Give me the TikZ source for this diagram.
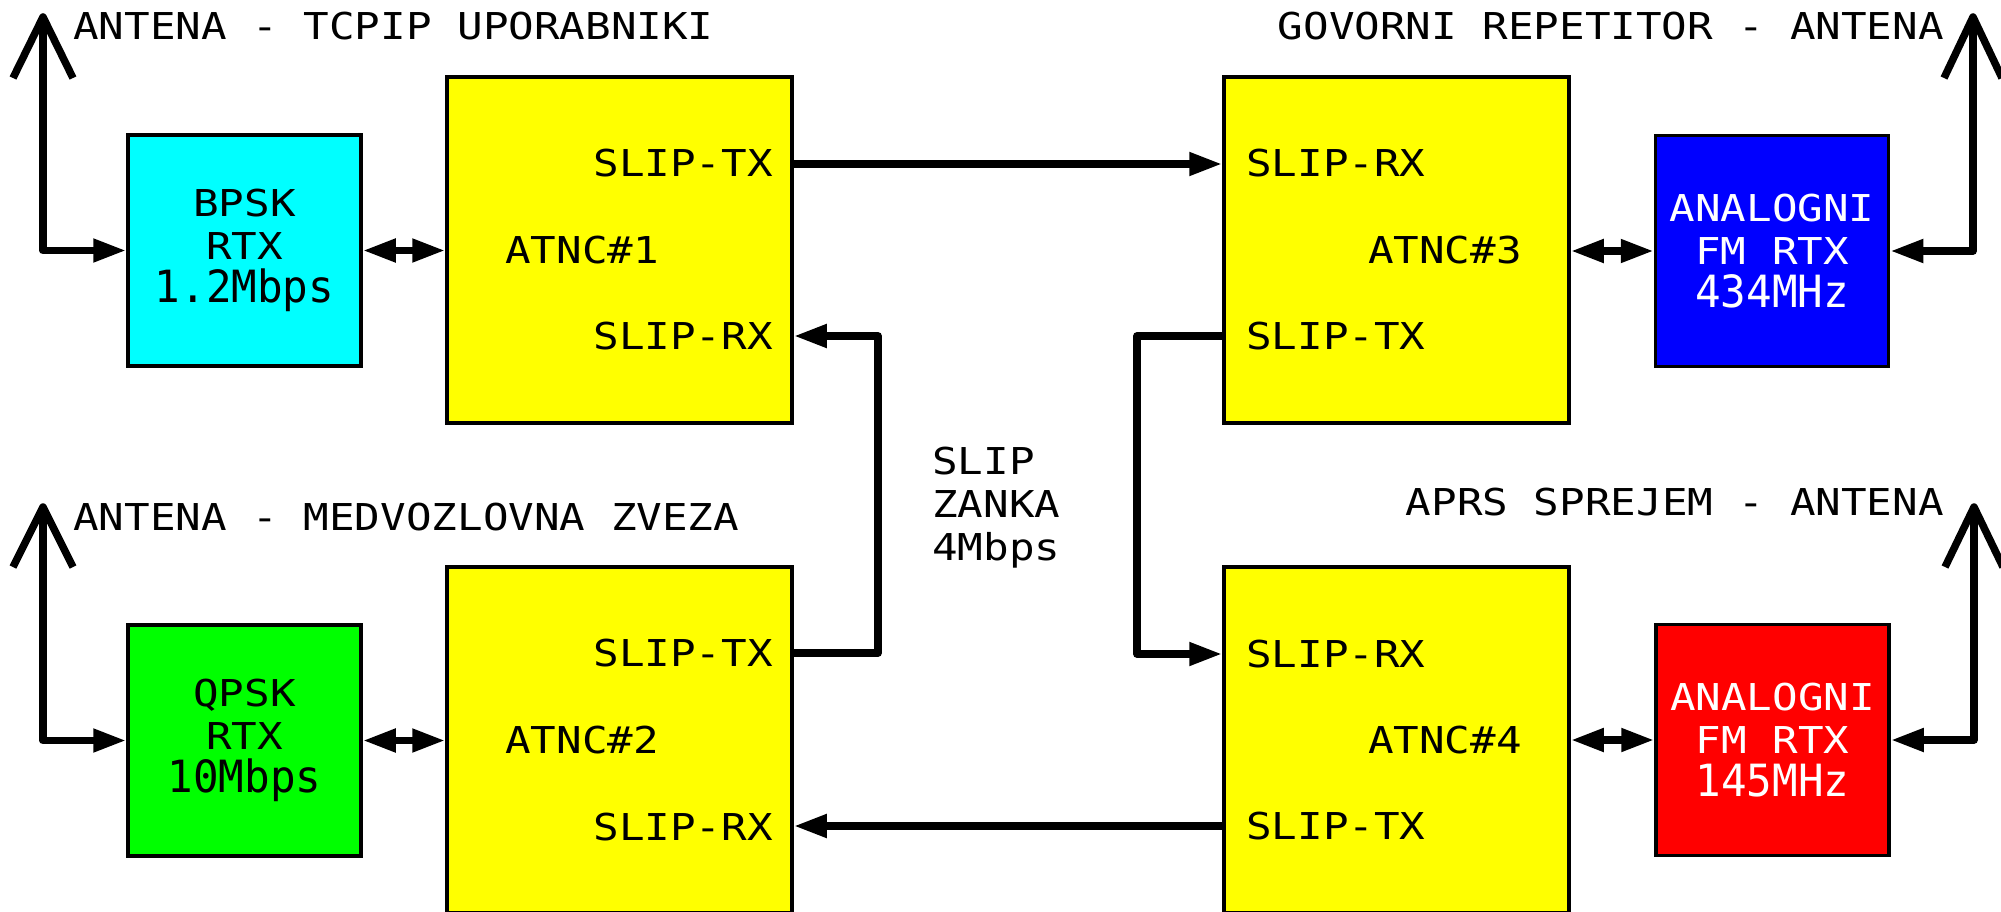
\documentclass[tikz,border=0pt]{standalone}
\usepackage{fontspec}
\setmainfont{DejaVu Sans Mono}[FakeStretch=1.15]
\usetikzlibrary{arrows.meta}
\definecolor{cy}{RGB}{0,255,255}
\definecolor{yel}{RGB}{255,255,0}
\definecolor{bl}{RGB}{0,0,255}
\definecolor{rd}{RGB}{255,0,0}
\definecolor{gr}{RGB}{0,255,0}
\begin{document}
\begin{tikzpicture}[x=1pt,y=-1pt,
  font=\fontsize{37}{43}\selectfont,
  blk/.style={draw=black, line width=3.5pt, inner sep=0pt, align=center},
  rtx/.style={blk, minimum width=233pt, minimum height=231pt},
  atnc/.style={blk, fill=yel, minimum width=345pt, minimum height=346pt},
  wire/.style={line width=7.5pt, line join=round},
  conn/.style={wire, -{Triangle[length=33pt,width=22pt]}},
  bidir/.style={wire, {Triangle[length=33pt,width=22pt]}-{Triangle[length=33pt,width=22pt]}},
  lbl/.style={inner sep=0pt}
]
\path[use as bounding box, clip] (0,0) rectangle (2001,912);

% boxes
\node[rtx, fill=cy] (bpsk) at (244.5,250.5) {BPSK\\RTX\\\scalebox{1}[1.2]{1.2Mbps}};
\node[rtx, fill=gr] (qpsk) at (244.5,740.5) {QPSK\\RTX\\\scalebox{1}[1.2]{10Mbps}};
\node[rtx, fill=bl, text=white] (fma) at (1772,251) {ANALOGNI\\FM RTX\\\scalebox{1}[1.2]{434MHz}};
\node[rtx, fill=rd, text=white] (fmb) at (1772.5,740) {ANALOGNI\\FM RTX\\\scalebox{1}[1.2]{145MHz}};
\node[atnc] (a1) at (619.5,250) {};
\node[atnc] (a2) at (619.5,740) {};
\node[atnc] (a3) at (1396.5,250) {};
\node[atnc] (a4) at (1396.5,740) {};

% box labels
\node[lbl, anchor=base east] (a1tx) at (773,177) {SLIP-TX};
\node[lbl, anchor=base west] (a1n) at (505,263) {ATNC\#1};
\node[lbl, anchor=base east] (a1rx) at (773,349) {SLIP-RX};
\node[lbl, anchor=base east] (a2tx) at (773,666) {SLIP-TX};
\node[lbl, anchor=base west] (a2n) at (505,753) {ATNC\#2};
\node[lbl, anchor=base east] (a2rx) at (773,840) {SLIP-RX};
\node[lbl, anchor=base west] (a3rx) at (1246,177) {SLIP-RX};
\node[lbl, anchor=base east] (a3n) at (1522,263) {ATNC\#3};
\node[lbl, anchor=base west] (a3tx) at (1246,349) {SLIP-TX};
\node[lbl, anchor=base west] (a4rx) at (1246,667) {SLIP-RX};
\node[lbl, anchor=base east] (a4n) at (1522,753) {ATNC\#4};
\node[lbl, anchor=base west] (a4tx) at (1246,839) {SLIP-TX};

\node[lbl, anchor=north west, align=left] (zanka) at (932,447) {SLIP\\ZANKA\\4Mbps};

% titles
\node[lbl, anchor=base west] (t1) at (73,40) {ANTENA - TCPIP UPORABNIKI};
\node[lbl, anchor=base east] (t2) at (1944,40) {GOVORNI REPETITOR - ANTENA};
\node[lbl, anchor=base west] (t3) at (73,530) {ANTENA - MEDVOZLOVNA ZVEZA};
\node[lbl, anchor=base east] (t4) at (1944,515) {APRS SPREJEM - ANTENA};

% antennas
\coordinate (ant1) at (43,17);
\coordinate (ant2) at (1973,17);
\coordinate (ant3) at (43,507);
\coordinate (ant4) at (1974,507);
\draw[wire] (13,78) -- (ant1) -- (73,78);
\draw[wire] (1944,78) -- (ant2) -- (2002,78);
\draw[wire] (13,567) -- (ant3) -- (73,567);
\draw[wire] (1945,567) -- (ant4) -- (2003,567);
\draw[conn] (ant1) |- (bpsk.west);
\draw[conn] (ant2) |- (fma.east);
\draw[conn] (ant3) |- (qpsk.west);
\draw[conn] (ant4) |- (fmb.east);

% bidirectional links
\draw[bidir] (bpsk.east) -- (a1.west |- bpsk.east);
\draw[bidir] (qpsk.east) -- (a2.west |- qpsk.east);
\draw[bidir] (fma.west) -- (a3.east |- fma.west);
\draw[bidir] (fmb.west) -- (a4.east |- fmb.west);

% SLIP loop
\coordinate (y1) at (0,164);
\coordinate (y2) at (0,653);
\coordinate (y3) at (0,336);
\coordinate (y4) at (0,826);
\coordinate (k1) at (878,336);
\coordinate (k2) at (1137,654);
\draw[conn] (a1.east |- y1) -- (a3.west |- y1);
\draw[conn] (a2.east |- y2) -| (k1) -- (a1.east |- k1);
\draw[conn] (a3.west |- y3) -| (k2) -- (a4.west |- k2);
\draw[conn] (a4.west |- y4) -- (a2.east |- y4);
\end{tikzpicture}
\end{document}
